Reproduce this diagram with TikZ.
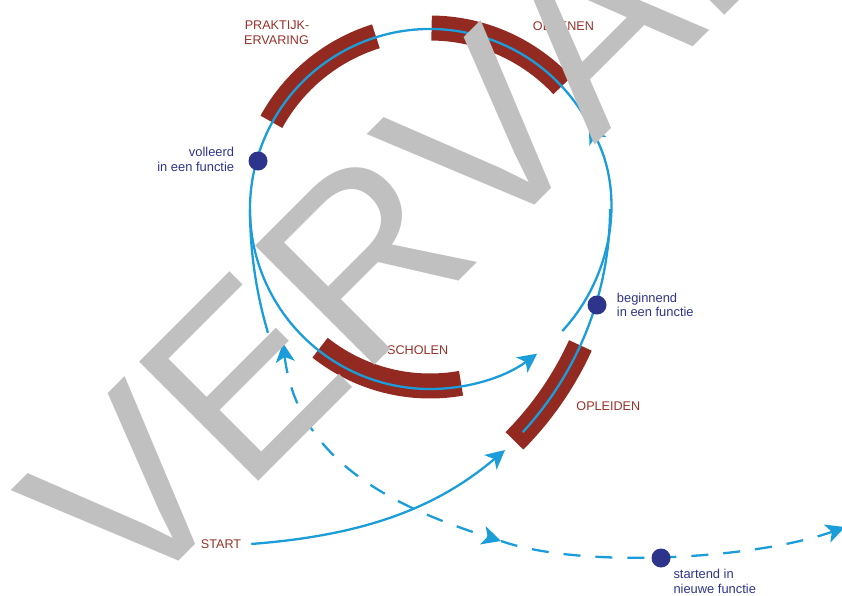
\documentclass[tikz,border=0pt]{standalone}
\usepackage{fontspec}
\setmainfont{Liberation Sans}
\newfontfamily\stampfont[Kerning=Off]{Liberation Sans}
\usetikzlibrary{arrows.meta,calc}
\definecolor{flowblue}{RGB}{27,157,217}
\definecolor{barred}{RGB}{146,42,34}
\definecolor{labelred}{RGB}{152,48,40}
\definecolor{navy}{RGB}{45,52,140}
\definecolor{stampgray}{RGB}{192,192,192}

\begin{document}
\begin{tikzpicture}[x=1pt,y=-1pt,
  flow/.style={draw=flowblue, line width=2.3pt},
  tip/.style={-{Stealth[length=19pt,width=19pt,inset=5pt]}},
  bothtips/.style={{Stealth[length=19pt,width=19pt,inset=5pt]}-{Stealth[length=19pt,width=19pt,inset=5pt]}},
  dashedflow/.style={flow, dash pattern=on 17pt off 15pt},
  bar/.style={draw=barred, line width=25pt},
  stage/.style={text=labelred, font=\fontsize{12.6}{15}\selectfont, inner sep=0pt},
  note/.style={text=navy, font=\fontsize{12.9}{15}\selectfont, inner sep=0pt},
  milestone/.style={circle, fill=navy, minimum size=19pt, inner sep=0pt},
  stamp/.style={text=stampgray, font=\stampfont\fontsize{245}{245}\selectfont, inner sep=0pt}
]
\useasboundingbox (0,0) rectangle (842,595);
\clip (0,0) rectangle (842,595);

% centres of the cycle and of the two side arcs
\coordinate (c) at (430,209);
\coordinate (o) at (281,209);
\coordinate (l) at (686,209);

% stage bars
\draw[bar] (c) ++(-151.2:181) arc[start angle=-151.2, end angle=-107.4, radius=181];
\draw[bar] (c) ++(-89.5:181) arc[start angle=-89.5, end angle=-43, radius=181];
\draw[bar] (c) ++(79.9:177) arc[start angle=79.9, end angle=128.4, radius=177];
\draw[bar] (o) ++(44.8:329) arc[start angle=44.8, end angle=24.5, radius=329];

% the learning cycle
\draw[flow, tip] (c) ++(42.7:180) arc[start angle=42.7, end angle=-28, radius=180];
\draw[flow, tip] (c) ++(-28:180) arc[start angle=-28, end angle=-306.5, radius=180];
% entry arc on the right, exit arc on the left
\draw[flow] (o) ++(42.7:329) arc[start angle=42.7, end angle=0, radius=329];
\draw[flow] (l) ++(180:436) arc[start angle=180, end angle=163.5, radius=436];

% start
\node[stage, anchor=base] (start) at (221,548.3) {START};
\coordinate (optip) at (505,450);
\draw[flow, tip] ([xshift=10pt]start.east) .. controls (370,535) and (440,505) .. (optip);

% move to a new function
\coordinate (dtop) at (283,343);
\coordinate (dmid) at (501,541);
\coordinate (dend) at (845,527);
\draw[dashedflow, bothtips] (dtop) .. controls (297.4,461.8) and (396.5,508) .. (dmid);
\draw[dashedflow, tip] (dmid) .. controls (585,570) and (760,558) .. (dend);

% milestones
\node[milestone] (volleerd) at (258,161) {};
\node[milestone] (beginnend) at (597,305) {};
\node[milestone] (nieuw) at (661,558) {};

\node[note, anchor=base east] (volleerdA) at (234.3,156.7) {volleerd};
\node[note, anchor=base east] (volleerdB) at (234.3,171.3) {in een functie};
\node[note, anchor=base west] (beginnendA) at (616.7,302) {beginnend};
\node[note, anchor=base west] (beginnendB) at (616.7,316.7) {in een functie};
\node[note, anchor=base west] (nieuwA) at (673.3,578.3) {startend in};
\node[note, anchor=base west] (nieuwB) at (673.3,593.7) {nieuwe functie};

% stage names
\node[stage, anchor=base] (praktijkA) at (277,29.3) {PRAKTIJK-};
\node[stage, anchor=base] (praktijkB) at (276.5,44) {ERVARING};
\node[stage, anchor=base] (oefenen) at (563.4,30.7) {OEFENEN};
\node[stage, anchor=base east] (bijscholen) at (448.3,354) {BIJSCHOLEN};
\node[stage, anchor=base] (opleiden) at (608.3,410.7) {OPLEIDEN};

% stamp across the sheet
\node[stamp, anchor=base west, rotate=45] (stampword) at (129,611) {VERV\kern-9pt ALLEN};
\end{tikzpicture}
\end{document}
